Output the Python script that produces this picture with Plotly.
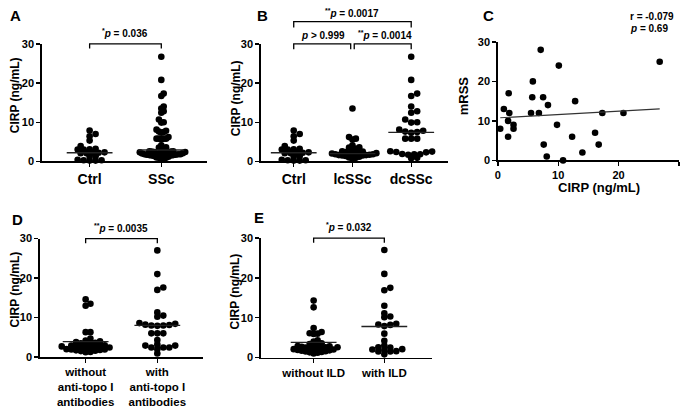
import numpy as np
import plotly.graph_objects as go

W, H = 685, 415

# ---------------- data ----------------
ctrl = [7.9, 7.0, 6.4, 5.3, 3.9, 3.2, 3.1, 3.0, 3.0, 2.3, 2.2, 2.2, 2.1, 2.1,
        1.3, 1.2, 0.4, 0.3, 0.3, 0.2, 0.2]
lcssc = [13.5, 6.2, 5.8, 5.6, 4.1, 3.6, 3.5, 3.2, 2.9, 2.6, 2.5, 2.4, 2.2, 2.1,
         2.0, 2.0, 1.9, 1.8, 1.8, 1.7, 1.7, 1.6, 1.6, 1.5, 1.5, 1.4, 1.2, 1.0, 0.9, 0.7]
dcssc = [26.7, 20.8, 17.3, 16.7, 14.0, 12.8, 12.4, 10.7, 10.0, 9.9, 8.1, 7.8, 7.6,
         7.5, 7.3, 5.8, 5.8, 5.8, 2.6, 2.5, 2.4, 2.3, 1.9, 1.8, 1.8, 1.7, 0.9, 0.8]
ssc = lcssc + dcssc

topo_neg = [14.6, 13.5, 13.0, 6.3, 6.3, 4.7, 4.2, 4.0, 3.8, 3.6, 3.5, 3.4, 3.2, 3.0,
            2.9, 2.8, 2.7, 2.7, 2.6, 2.5, 2.4, 2.3, 2.2, 2.0, 1.9, 1.9, 1.8, 1.7,
            1.6, 1.5, 1.3, 1.2]
topo_pos = [27.0, 21.0, 17.6, 17.0, 11.3, 10.5, 10.2, 8.6, 8.4, 8.2, 8.1, 8.0, 8.0,
            7.9, 6.0, 6.0, 6.0, 4.3, 3.2, 2.9, 2.9, 2.4, 2.4, 2.4, 2.0, 0.9]

ild_neg = [14.3, 12.6, 7.4, 6.4, 6.1, 6.0, 5.9, 4.3, 4.0, 3.6, 3.4, 3.2, 3.0, 2.9,
           2.8, 2.7, 2.6, 2.6, 2.5, 2.4, 2.3, 2.2, 2.1, 2.0, 2.0, 1.9, 1.8, 1.7,
           1.6, 1.5, 1.4, 1.3, 1.2, 1.0]
ild_pos = [27.0, 21.0, 17.5, 16.9, 13.0, 11.1, 10.3, 10.1, 8.5, 8.3, 8.2, 7.9, 6.0,
           4.2, 3.0, 2.6, 2.5, 2.1, 2.0, 1.9, 1.6, 1.5, 1.5, 0.8]

medians_a = [2.2, 2.9]
medians_b = [2.2, 2.0, 7.4]
medians_d = [3.9, 8.0]
medians_e = [3.8, 7.8]

cirp_c = [7.1, 10.1, 26.8, 5.8, 1.8, 5.7, 7.5, 12.8, 8.3, 1.0, 1.9, 5.5, 6.8, 17.3,
          20.8, 1.7, 2.6, 9.8, 2.6, 0.4, 16.1, 1.7, 12.3, 7.6, 16.7, 14.0, 8.1, 10.8]
mrss_c = [28, 24, 25, 20, 17, 16, 16, 15, 14, 13, 12, 12, 12, 12, 12, 10, 9, 9, 8,
          8, 7, 6, 6, 4, 4, 2, 1, 0]

labels_a = ["Ctrl", "SSc"]
labels_b = ["Ctrl", "lcSSc", "dcSSc"]
labels_d = ["without<br>anti-topo I<br>antibodies", "with<br>anti-topo I<br>antibodies"]
labels_e = ["without ILD", "with ILD"]
y_ticks = [0, 10, 20, 30]

FONT = "Liberation Sans, Arial, sans-serif"

# ---------------- layout of panels (pixels) ----------------
panels = [
    dict(n=1, letter="A", left=39, right=205, top=39, bot=160, c0=87, dc=72,
         groups=[ctrl, ssc], meds=medians_a, labels=labels_a, lab_size=14),
    dict(n=2, letter="B", left=259, right=447, top=39, bot=160, c0=292, dc=59,
         groups=[ctrl, lcssc, dcssc], meds=medians_b, labels=labels_b, lab_size=14),
    dict(n=4, letter="D", left=37, right=201, top=239.5, bot=361.5, c0=83, dc=72,
         groups=[topo_neg, topo_pos], meds=medians_d, labels=labels_d, lab_size=11.5),
    dict(n=5, letter="E", left=259, right=431, top=239, bot=362, c0=312, dc=71,
         groups=[ild_neg, ild_pos], meds=medians_e, labels=labels_e, lab_size=11.5),
]


def swarm(values, ppu, ppc, d=6.0, vscale=1.5, cap=24.0):
    vals = np.asarray(values, float)
    order = np.argsort(vals)
    placed = []
    off = np.zeros(len(vals))
    step = d * 0.5
    for i in order:
        y = vals[i] * ppu
        cand = 0.0
        for k in range(300):
            cand = 0.0 if k == 0 else ((k + 1) // 2) * step * (1 if k % 2 else -1)
            if all((cand - px) ** 2 + ((y - py) * vscale) ** 2 >= d ** 2
                   for px, py in placed):
                break
        placed.append((cand, y))
        off[i] = cand
    m = np.abs(off).max()
    if m > cap:
        off = off * cap / m
    return off / ppc


fig = go.Figure()
layout = dict(width=W, height=H, margin=dict(l=0, r=0, t=0, b=0),
              paper_bgcolor="white", plot_bgcolor="white", showlegend=False,
              shapes=[], annotations=[])

axis_common = dict(showline=True, linecolor="black", linewidth=1.6, ticks="outside",
                   ticklen=4, tickwidth=1.4, tickcolor="black", showgrid=False,
                   zeroline=False, fixedrange=True)


def sfx(n):
    return "" if n == 1 else str(n)


def add_ann(text, x, y, size, xanchor="center", yanchor="middle", angle=0,
            xref="paper", yref="paper", bold=True):
    layout["annotations"].append(dict(
        text=text, x=x, y=y, xref=xref, yref=yref, showarrow=False,
        xanchor=xanchor, yanchor=yanchor, textangle=angle,
        font=dict(family=FONT, size=size, color="black",
                  weight="bold" if bold else "normal")))


for p in panels:
    n = p["n"]
    r0 = (p["left"] - p["c0"]) / p["dc"]
    r1 = (p["right"] - p["c0"]) / p["dc"]
    p["r0"], p["r1"] = r0, r1
    ppu = (p["bot"] - p["top"]) / 30.0
    ncat = len(p["groups"])
    layout["xaxis" + sfx(n)] = dict(
        axis_common, domain=[p["left"] / W, p["right"] / W], range=[r0, r1],
        anchor="y" + sfx(n), tickvals=list(range(ncat)), ticktext=p["labels"],
        tickfont=dict(family=FONT, size=p["lab_size"], color="black", weight="bold"))
    layout["yaxis" + sfx(n)] = dict(
        axis_common, domain=[1 - p["bot"] / H, 1 - p["top"] / H], range=[0, 30],
        anchor="x" + sfx(n), tickvals=y_ticks,
        tickfont=dict(family=FONT, size=11, color="black", weight="bold"))
    half = 23.0 / p["dc"]
    for ci, (vals, med) in enumerate(zip(p["groups"], p["meds"])):
        off = swarm(vals, ppu, p["dc"])
        fig.add_trace(go.Scatter(
            x=ci + off, y=vals, mode="markers", cliponaxis=False,
            marker=dict(size=6.6, color="black", line=dict(width=0)),
            xaxis="x" + sfx(n), yaxis="y" + sfx(n), hoverinfo="skip"))
        fig.add_trace(go.Scatter(
            x=[ci - half, ci + half], y=[med, med], mode="lines",
            line=dict(color="#222", width=1.3),
            xaxis="x" + sfx(n), yaxis="y" + sfx(n), hoverinfo="skip"))


def xf(p, c):
    return (c - p["r0"]) / (p["r1"] - p["r0"])


def bracket(p, ca, cb, ytop, yleg):
    s = sfx(p["n"])
    xa, xb = xf(p, ca), xf(p, cb)
    ya, yb = ytop / 30.0, yleg / 30.0
    layout["shapes"].append(dict(
        type="path", xref="x" + s + " domain", yref="y" + s + " domain",
        path=f"M {xa},{yb} L {xa},{ya} L {xb},{ya} L {xb},{yb}",
        line=dict(color="black", width=1.3)))


def ptext(p, c, yv, text):
    s = sfx(p["n"])
    add_ann(text, xf(p, c), yv / 30.0, 10, xref="x" + s + " domain",
            yref="y" + s + " domain")


pA, pB, pD, pE = panels
bracket(pA, 0, 1, 30, 28.8)
ptext(pA, 0.5, 32.7, "<sup>*</sup><i>p</i> = 0.036")
bracket(pB, 0, 0.97, 30, 28.6)
bracket(pB, 1.03, 2, 30, 28.6)
bracket(pB, 0, 2, 35.7, 34.2)
ptext(pB, 0.5, 32.2, "<i>p</i> > 0.999")
ptext(pB, 1.55, 32.2, "<sup>**</sup><i>p</i> = 0.0014")
ptext(pB, 1.0, 38.0, "<sup>**</sup><i>p</i> = 0.0017")
bracket(pD, 0, 1, 30, 28.8)
ptext(pD, 0.5, 32.7, "<sup>**</sup><i>p</i> = 0.0035")
bracket(pE, 0, 1, 30, 28.8)
ptext(pE, 0.5, 32.7, "<sup>*</sup><i>p</i> = 0.032")

# ---------------- panel C ----------------
cl, cr, ct, cb = 497, 679, 37, 159
layout["xaxis3"] = dict(axis_common, domain=[cl / W, cr / W], range=[0, 30], anchor="y3",
                        tickvals=y_ticks,
                        tickfont=dict(family=FONT, size=11, color="black", weight="bold"))
layout["yaxis3"] = dict(axis_common, domain=[1 - cb / H, 1 - ct / H], range=[0, 30],
                        anchor="x3", tickvals=y_ticks,
                        tickfont=dict(family=FONT, size=11, color="black", weight="bold"))
fig.add_trace(go.Scatter(x=cirp_c, y=mrss_c, mode="markers", cliponaxis=False,
                         marker=dict(size=6.6, color="black"),
                         xaxis="x3", yaxis="y3", hoverinfo="skip"))
slope, icpt = np.polyfit(cirp_c, mrss_c, 1)
xs = np.array([min(cirp_c), max(cirp_c)])
fig.add_trace(go.Scatter(x=xs, y=slope * xs + icpt, mode="lines",
                         line=dict(color="#333", width=1.1),
                         xaxis="x3", yaxis="y3", hoverinfo="skip"))
add_ann("r = -0.079", (628 - cl) / (cr - cl), (cb - 11) / (cb - ct), 10,
        xanchor="left", xref="x3 domain", yref="y3 domain")
add_ann("<i>p</i> = 0.69", (628 - cl) / (cr - cl), (cb - 23) / (cb - ct), 10,
        xanchor="left", xref="x3 domain", yref="y3 domain")
add_ann("CIRP (ng/mL)", 599 / W, 1 - 187 / H, 13)
add_ann("mRSS", 462 / W, 1 - 92 / H, 13, angle=-90)

# ---------------- titles & letters ----------------
for (x, y) in [(12, 92), (234, 95), (12, 292), (234, 294)]:
    add_ann("CIRP (ng/mL)", x / W, 1 - y / H, 12, angle=-90)
for letter, x, y in [("A", 5, 10), ("B", 253, 10), ("C", 480, 10), ("D", 7, 220), ("E", 250, 218)]:
    add_ann(letter, x / W, 1 - y / H, 15, xanchor="left")

fig.update_layout(**layout)
fig.write_html("out.html", config={"displayModeBar": False, "staticPlot": True},
               post_script="document.body.style.margin='0';document.body.style.overflow='hidden';")
